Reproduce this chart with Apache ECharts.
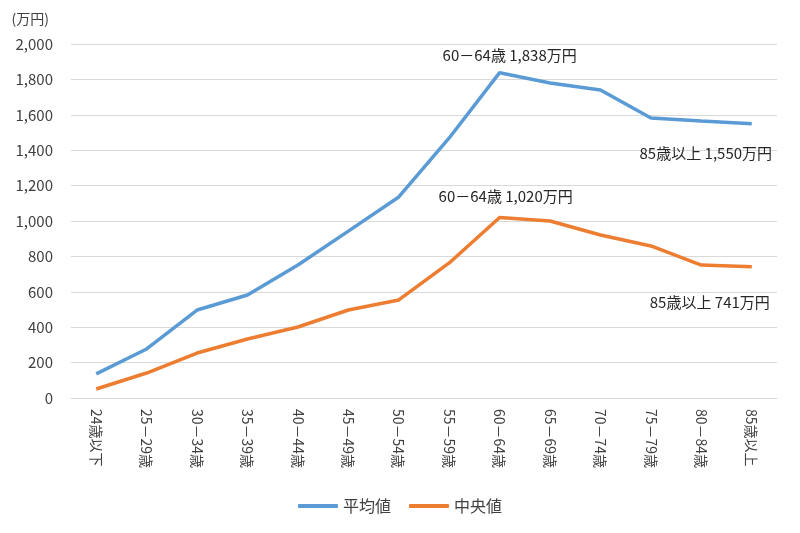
<!DOCTYPE html>
<html>
<head>
<meta charset="utf-8">
<script src="https://cdn.jsdelivr.net/npm/echarts@6/dist/echarts.min.js"></script>
<style>
  html, body { margin: 0; padding: 0; background: #fff; }
  #chart { width: 800px; height: 533px; }
</style>
</head>
<body>
<div id="chart"></div>
<script>
  const categories = ["24歳以下", "25－29歳", "30－34歳", "35－39歳", "40－44歳", "45－49歳", "50－54歳",
    "55－59歳", "60－64歳", "65－69歳", "70－74歳", "75－79歳", "80－84歳", "85歳以上"];
  const averageValues = [136, 277, 497, 582, 751, 943, 1136, 1469, 1838, 1780, 1740, 1582, 1565, 1550];
  const medianValues = [51, 141, 254, 333, 401, 497, 554, 763, 1020, 1000, 921, 859, 751, 741];
  const yTicks = [0, 200, 400, 600, 800, 1000, 1200, 1400, 1600, 1800, 2000];

  const font = '"Noto Sans CJK JP", "Noto Sans", sans-serif';

  function labelText(i, v) {
    return categories[i] + " " + v.toLocaleString("en-US") + "万円";
  }

  // only the peak and the last point carry a label
  function withLabels(values, peakOffset, lastOffset) {
    const peak = values.indexOf(Math.max(...values));
    const last = values.length - 1;
    return values.map((v, i) => {
      if (i === peak || i === last) {
        return {
          value: v,
          label: {
            show: true,
            formatter: labelText(i, v),
            position: i === peak ? "top" : "bottom",
            offset: i === peak ? peakOffset : lastOffset,
            color: "#262626",
            fontSize: 15,
            fontFamily: font,
          },
        };
      }
      return v;
    });
  }

  const chart = echarts.init(document.getElementById("chart"));
  chart.setOption({
    animation: false,
    grid: { left: 71, right: 23, top: 44, bottom: 135 },
    legend: {
      bottom: 14,
      itemWidth: 40,
      itemHeight: 4,
      itemGap: 18,
      icon: "roundRect",
      textStyle: { color: "#404040", fontSize: 16, fontFamily: font },
      data: ["平均値", "中央値"],
    },
    xAxis: {
      type: "category",
      data: categories,
      boundaryGap: true,
      axisLine: { show: true, lineStyle: { color: "#d9d9d9" } },
      axisTick: { show: false },
      axisLabel: {
        rotate: -90,
        interval: 0,
        color: "#404040",
        fontSize: 14,
        fontFamily: font,
        margin: 11,
      },
    },
    yAxis: {
      type: "value",
      min: yTicks[0],
      max: yTicks[yTicks.length - 1],
      interval: 200,
      name: "(万円)",
      nameLocation: "end",
      nameGap: 18,
      nameTextStyle: { color: "#404040", fontSize: 14, fontFamily: font, align: "right", padding: [0, 22, 0, 0] },
      axisLine: { show: false },
      axisTick: { show: false },
      axisLabel: {
        color: "#404040",
        fontSize: 15,
        fontFamily: font,
        margin: 18,
        formatter: (v) => v.toLocaleString("en-US"),
      },
      splitLine: { lineStyle: { color: "#d9d9d9" } },
    },
    series: [
      {
        name: "平均値",
        type: "line",
        data: withLabels(averageValues, [10, -5], [-46, 17]),
        symbol: "circle",
        symbolSize: 0,
        showSymbol: true,
        lineStyle: { width: 3.5, color: "#5b9bd5" },
        itemStyle: { color: "#5b9bd5" },
      },
      {
        name: "中央値",
        type: "line",
        data: withLabels(medianValues, [6, -9], [-42, 23]),
        symbol: "circle",
        symbolSize: 0,
        showSymbol: true,
        lineStyle: { width: 3.5, color: "#ed7d31" },
        itemStyle: { color: "#ed7d31" },
      },
    ],
  });
</script>
</body>
</html>
